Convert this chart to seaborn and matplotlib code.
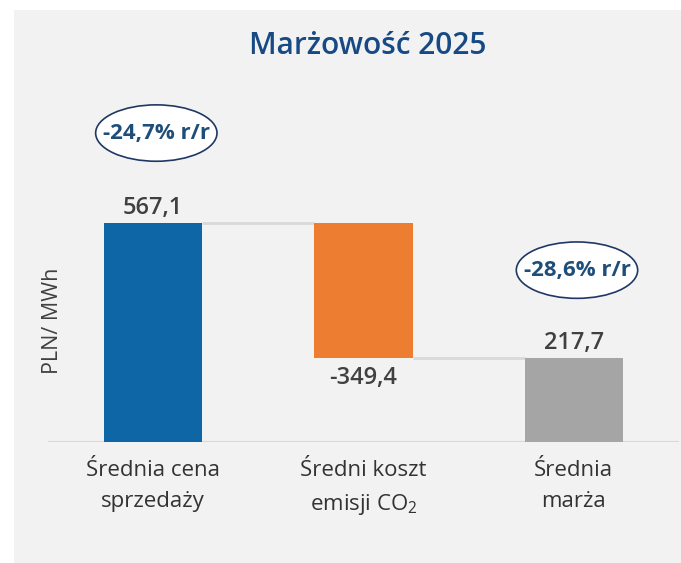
import matplotlib
matplotlib.use("Agg")
import matplotlib.pyplot as plt
from matplotlib.patches import Ellipse, Rectangle
import seaborn as sns
import pandas as pd

# ---- data ----
categories = ["Średnia cena sprzedaży", "Średni koszt emisji CO2", "Średnia marża"]
tick_labels = ["Średnia cena\nsprzedaży", "Średni koszt\nemisji CO$_2$", "Średnia\nmarża"]
values = [567.1, -349.4, 217.7]
kinds = ["delta", "delta", "total"]
value_labels = ["567,1", "-349,4", "217,7"]
change_labels = ["-24,7% r/r", None, "-28,6% r/r"]
bar_colors = ["#0e66a6", "#ed7d31", "#a5a5a5"]
title = "Marżowość 2025"
y_label = "PLN/ MWh"

# ---- waterfall geometry from data ----
bottoms, heights, tops = [], [], []
cum = 0.0
for v, k in zip(values, kinds):
    if k == "total":
        b, h = 0.0, v
        cum = v
    else:
        new = cum + v
        b, h = min(cum, new), abs(v)
        cum = new
    bottoms.append(b)
    heights.append(h)
    tops.append(b + h)

df = pd.DataFrame({"kat": categories, "wys": heights, "dol": bottoms})

sns.set_style("white")
plt.rcParams["font.family"] = ["Open Sans", "DejaVu Sans"]
plt.rcParams["mathtext.fontset"] = "custom"
plt.rcParams["mathtext.rm"] = "Open Sans"
plt.rcParams["mathtext.default"] = "regular"

W, H = 681, 563
fig = plt.figure(figsize=(W / 100, H / 100), dpi=100)
fig.patch.set_facecolor("white")
fig.patches.append(Rectangle((14 / W, 0), 1 - 14 / W, (H - 10) / H,
                             transform=fig.transFigure, facecolor="#f2f2f2",
                             edgecolor="none", zorder=-5))

px_per_unit = 219 / 567.1
base_px = 442
ax_bottom = (H - base_px) / H
ax_top = (H - 10) / H
ax = fig.add_axes([48 / W, ax_bottom, (679 - 48) / W, ax_top - ax_bottom])
ax.set_facecolor("none")
ax.set_zorder(2)

bar_w = 0.467
for i in range(len(df)):
    sns.barplot(data=df.iloc[[i]], x="kat", y="wys", order=categories,
                color=bar_colors[i], saturation=1, width=bar_w,
                bottom=df["dol"].iloc[i], errorbar=None, ax=ax, zorder=3,
                linewidth=0, edgecolor="none")

ax.set_xlim(-0.5, 2.5)
ax.set_ylim(0, (base_px - 10) / px_per_unit)

# baseline
ax.axhline(0, color="#d9d9d9", lw=1.6, zorder=2)

# connectors
for i in range(len(values) - 1):
    level = bottoms[i] if values[i] < 0 else tops[i]
    ax.plot([i + bar_w / 2, i + 1 - bar_w / 2], [level, level],
            color="#d9d9d9", lw=2, zorder=2, solid_capstyle="butt")

# value labels
for i, (v, lab) in enumerate(zip(values, value_labels)):
    if v >= 0:
        ax.annotate(lab, (i, tops[i]), xytext=(0, 10.5), textcoords="offset points",
                    ha="center", va="center", fontsize=17, fontweight="semibold",
                    color="#404040", zorder=5)
    else:
        ax.annotate(lab, (i, bottoms[i]), xytext=(0, -14.5), textcoords="offset points",
                    ha="center", va="center", fontsize=17, fontweight="semibold",
                    color="#404040", zorder=5)

# change ellipses
ell_centers_y = [800, None, 445]
for i, lab in enumerate(change_labels):
    if lab is None:
        continue
    cx = i + 0.015
    cy = ell_centers_y[i]
    e = Ellipse((cx, cy), 0.577, 146, facecolor="white", edgecolor="#1f3864",
                lw=1.2, clip_on=False, zorder=4)
    ax.add_patch(e)
    ax.text(cx, cy, lab, ha="center", va="center", fontsize=16,
            fontweight="bold", color="#1f4e79", zorder=5)

# axes cosmetics
for s in ax.spines.values():
    s.set_visible(False)
ax.set_yticks([])
ax.set_xticks(range(len(categories)))
ax.set_xticklabels(tick_labels, fontsize=16, color="#333333", linespacing=1.62)
ax.tick_params(axis="x", length=0, pad=13)
ax.set_xlabel("")
ax.set_ylabel("")

fig.text(52 / W, (H - 321) / H, y_label, rotation=90, ha="center", va="center",
         fontsize=15.5, color="#404040")
fig.text(368 / W, (H - 46) / H, title, ha="center", va="center", fontsize=21.5,
         fontweight="semibold", color="#174a84")

fig.savefig("out.png", dpi=100, facecolor="white")
